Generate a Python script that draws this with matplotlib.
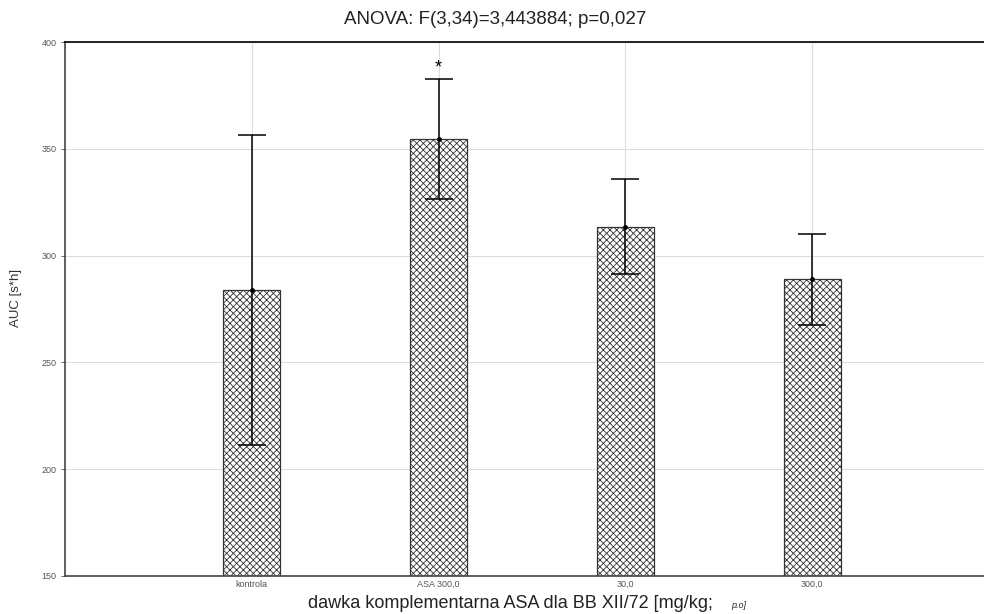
import numpy as np
import matplotlib.pyplot as plt

plt.rcParams['font.family'] = ['Liberation Sans', 'DejaVu Sans']
plt.rcParams['hatch.linewidth'] = 0.6

groups = ['kontrola', 'ASA 300,0', '30,0', '300,0']
auc_mean = [283.9, 354.5, 313.5, 289.0]
auc_err = [72.6, 28.1, 22.2, 21.3]
significant = [False, True, False, False]

fig = plt.figure(figsize=(9.84, 6.14), dpi=100)
ax = fig.add_axes([0.066, 0.062, 0.934, 0.8695])

x = np.arange(1, len(groups) + 1)
ax.bar(x, auc_mean, width=0.305, bottom=0, color='white', edgecolor='#333333',
       linewidth=0.9, hatch='xxxxx', zorder=2)
ax.errorbar(x, auc_mean, yerr=auc_err, fmt='o', color='black', ms=2.5,
            elinewidth=1.1, capsize=10, capthick=1.1, zorder=3)
for xi, m, e, s in zip(x, auc_mean, auc_err, significant):
    if s:
        ax.text(xi, m + e + 1.5, '*', ha='center', va='bottom', fontsize=13)

ax.set_xlim(0, 4.92)
ax.set_ylim(150, 400)
ax.set_yticks([150, 200, 250, 300, 350, 400])
ax.set_xticks(x)
ax.set_xticklabels(groups)
ax.grid(True, color='#dddddd', linewidth=0.8, zorder=0)
ax.set_axisbelow(True)
ax.tick_params(labelsize=6.5, labelcolor='#555555', length=3, width=0.6,
               color='#555555', pad=3)
ax.tick_params(axis='x', length=0)
for side in ['left', 'bottom']:
    ax.spines[side].set_color('#444444')
    ax.spines[side].set_linewidth(1.2)
ax.spines['top'].set_color('black')
ax.spines['top'].set_linewidth(1.2)
ax.spines['right'].set_visible(False)

fig.text(0.016, 0.515, 'AUC [s*h]', rotation=90, ha='center', va='center',
         fontsize=9.5, color='#333333')
fig.text(0.503, 0.968, 'ANOVA: F(3,34)=3,443884; p=0,027', ha='center',
         va='center', fontsize=13.5, color='#222222')
fig.text(0.313, 0.0165, 'dawka komplementarna ASA dla BB XII/72 [mg/kg;',
         ha='left', va='center', fontsize=13, color='#222222')
fig.text(0.743, 0.0135, 'p.o]', ha='left', va='center', fontsize=6.5,
         style='italic', color='#222222')

fig.savefig('out.png', dpi=100)
